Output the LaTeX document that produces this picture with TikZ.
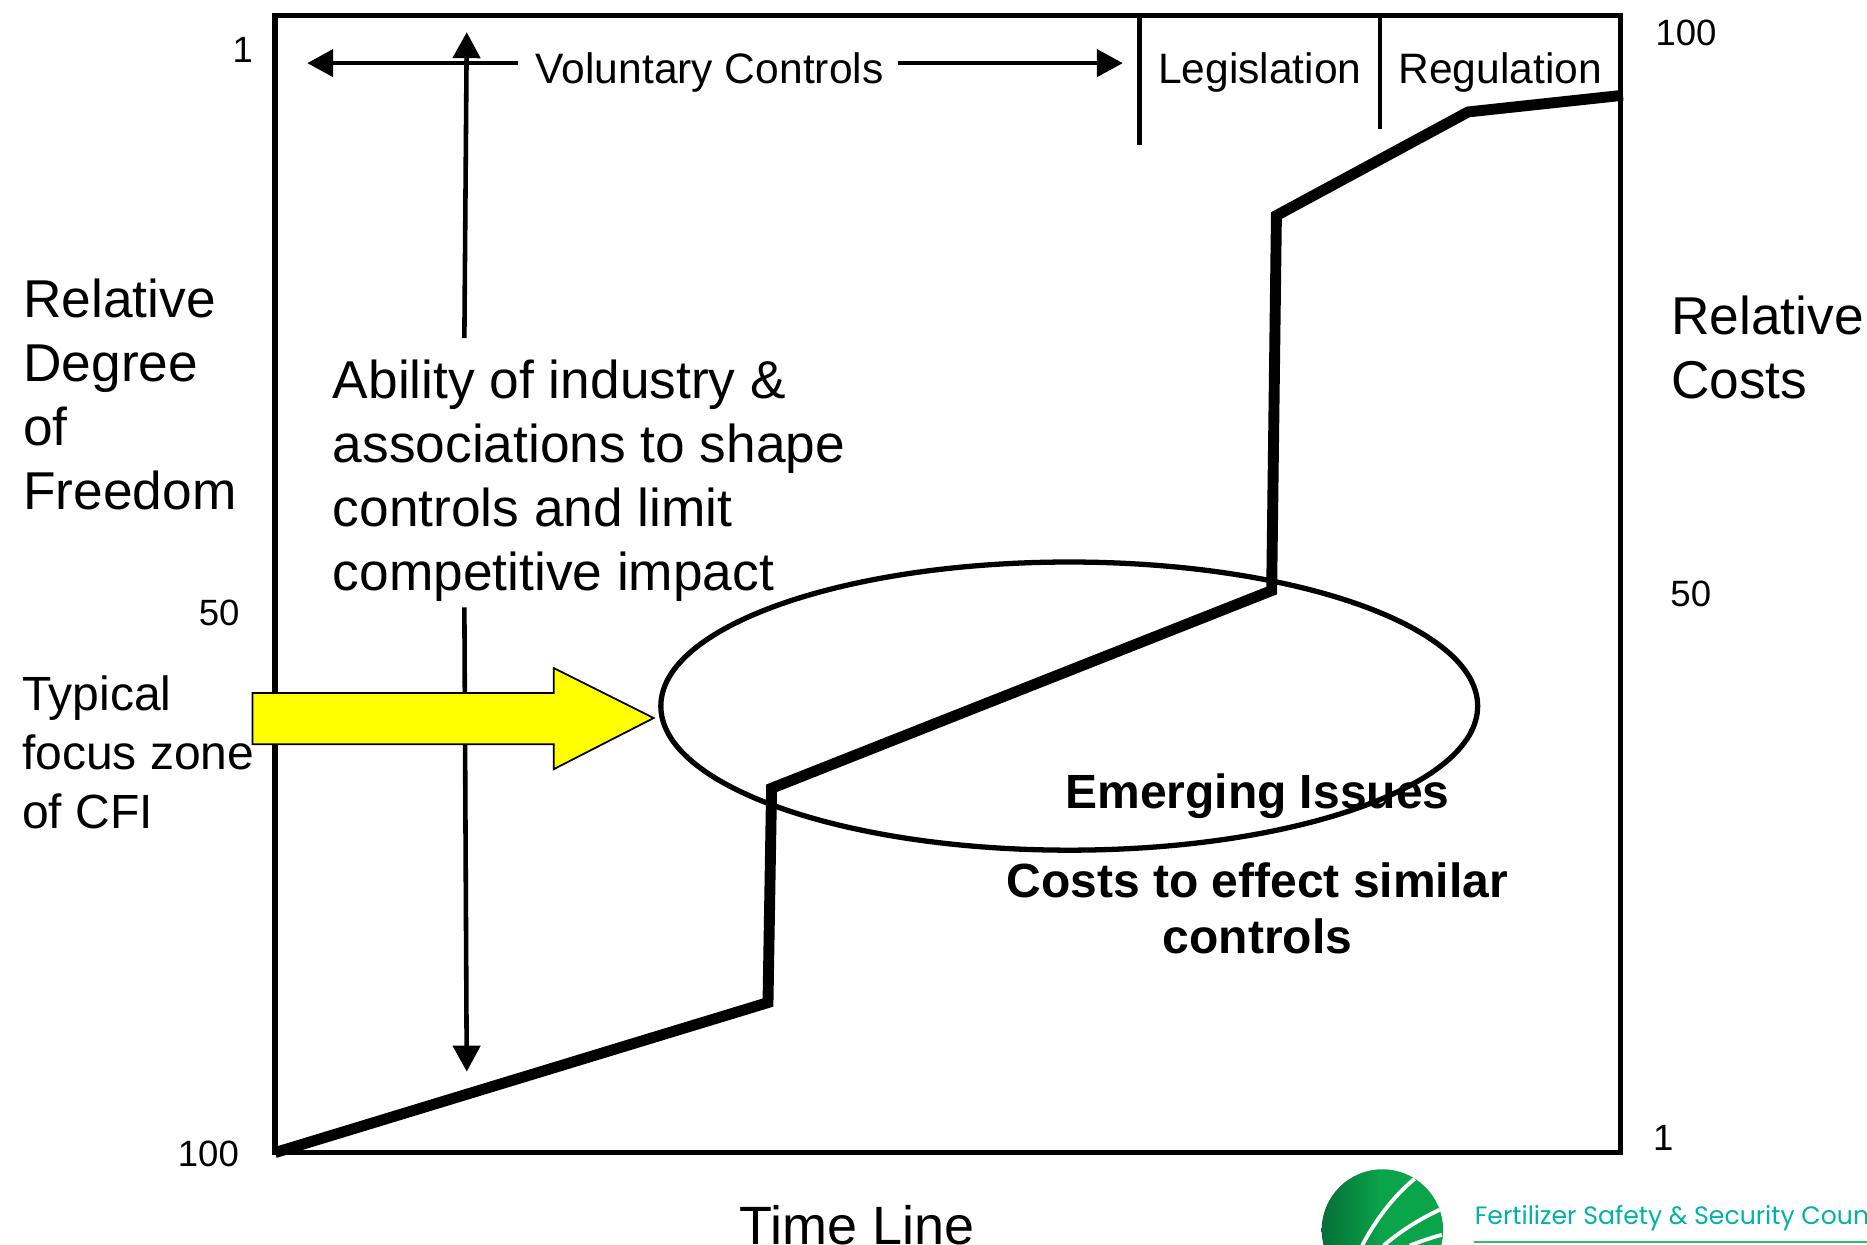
\documentclass[tikz,border=0pt]{standalone}
\usepackage{ fontspec }
\setmainfont{Liberation Sans}
\newfontfamily\logofont{Poppins}
\usetikzlibrary{ arrows.meta }

\definecolor{logogreen}{RGB}{10,165,75}
\definecolor{logodark}{RGB}{5,110,55}
\definecolor{logoteal}{RGB}{0,178,170}
\definecolor{logoline}{RGB}{45,190,110}
\definecolor{focusyellow}{RGB}{255,255,0}

\tikzset{
  bigtext/.style={font=\fontsize{15.15}{18.2}\selectfont, align=left, inner sep=0pt},
  midtext/.style={font=\fontsize{13.65}{16.8}\selectfont, align=left, inner sep=0pt},
  boldtext/.style={font=\fontsize{13.65}{15.9}\selectfont\bfseries, align=center, inner sep=0pt},
  bandtext/.style={font=\fontsize{12.1}{14}\selectfont, inner sep=0pt},
  scaletext/.style={font=\fontsize{10.4}{12}\selectfont, inner sep=0pt},
  thinarrow/.style={line width=1.3pt, -{Triangle[length=0.26cm,width=0.27cm]}},
  bandline/.style={line width=1.3pt},
}

\begin{document}
\begin{tikzpicture}[x=0.011907cm, y=-0.011907cm]
  \useasboundingbox (0,0) rectangle (1568,1045.6);
  \clip (0,0) rectangle (1568,1045.6);

  % Frame
  \draw[line width=1.5pt] (231,13) rectangle (1361,968);

  % Band along the top
  \coordinate (leg top) at (957,13);
  \coordinate (leg end) at (957,122);
  \coordinate (reg top) at (1159,13);
  \coordinate (reg end) at (1159,108);
  \draw[bandline] (leg top) -- (leg end);
  \draw[bandline] (reg top) -- (reg end);

  \node[bandtext, anchor=center] (voluntary) at (596,61) {Voluntary Controls};
  \node[bandtext, anchor=center] (legislation) at (1058,61) {Legislation};
  \node[bandtext, anchor=center] (regulation) at (1260,61) {Regulation};

  \coordinate (vol left start) at (435,53);
  \coordinate (vol left) at (258,53);
  \coordinate (vol right start) at (754,53);
  \coordinate (vol right) at (943,53);
  \draw[thinarrow] (vol left start) -- (vol left);
  \draw[thinarrow] (vol right start) -- (vol right);

  % Ability text and its arrows
  \node[bigtext, anchor=north west] (ability) at (279,302) {Ability of industry \&\\associations to shape\\controls and limit\\competitive impact};
  \coordinate (ability up start) at (390,284);
  \coordinate (ability up) at (392,27);
  \coordinate (ability down start) at (390,510);
  \coordinate (ability down) at (392,900);
  \draw[thinarrow] (ability up start) -- (ability up);
  \draw[thinarrow] (ability down start) -- (ability down);

  % Focus arrow
  \draw[fill=focusyellow, line width=0.5pt] (212,582) -- (465,582) -- (465,561) -- (549,603) -- (465,646) -- (465,625) -- (212,625) -- cycle;

  % Zone
  \draw[line width=1.5pt] (898,593) ellipse [x radius=343, y radius=121];

  % Cost line
  \coordinate (c0) at (231,968);
  \coordinate (c1) at (645,842);
  \coordinate (c2) at (648,662);
  \coordinate (c3) at (1068,496);
  \coordinate (c4) at (1072,181);
  \coordinate (c5) at (1233,94);
  \coordinate (c6) at (1363,80);
  \draw[line width=3.1pt] (c0) -- (c1) -- (c2) -- (c3) -- (c4) -- (c5) -- (c6);

  % Left side
  \node[bigtext, anchor=north west] (freedom) at (19,234) {Relative\\Degree\\of\\Freedom};
  \node[midtext, anchor=north west] (focus) at (18,567) {Typical\\focus zone\\of CFI};
  \node[scaletext, anchor=center] (left one) at (204,42) {1};
  \node[scaletext, anchor=center] (left fifty) at (184,515) {50};
  \node[scaletext, anchor=center] (left hundred) at (175,969) {100};

  % Right side
  \node[bigtext, anchor=north west] (costs) at (1403,248) {Relative\\Costs};
  \node[scaletext, anchor=center] (right hundred) at (1416,28) {100};
  \node[scaletext, anchor=center] (right fifty) at (1420,499) {50};
  \node[scaletext, anchor=center] (right one) at (1397,956) {1};

  % Inside and below
  \node[boldtext] (emerging) at (1056,669) {Emerging Issues};
  \node[boldtext] (similar) at (1056,763) {Costs to effect similar\\controls};
  \node[bigtext, font=\fontsize{15.35}{18.2}\selectfont] (timeline) at (720,1029) {Time Line};

  % Logo
  \shade[left color=logodark, right color=logogreen, middle color=logogreen] (1161,1033) circle (51);
  \draw[white, line width=1.1pt] (1188,990) .. controls (1170,1005) and (1155,1025) .. (1144,1046);
  \draw[white, line width=1.1pt] (1209,1016) .. controls (1190,1025) and (1175,1035) .. (1162,1046);
  \draw[white, line width=1.1pt] (1211,1037) .. controls (1200,1040) and (1192,1043) .. (1184,1046);
  \node[inner sep=0pt, anchor=west, text=logoteal, font=\logofont\fontsize{7.15}{9}\selectfont] (council) at (1238,1023) {Fertilizer Safety \& Security Coun};
  \coordinate (rule start) at (1238,1043);
  \coordinate (rule end) at (1568,1043);
  \draw[logoline, line width=0.6pt] (rule start) -- (rule end);

\end{tikzpicture}
\end{document}
